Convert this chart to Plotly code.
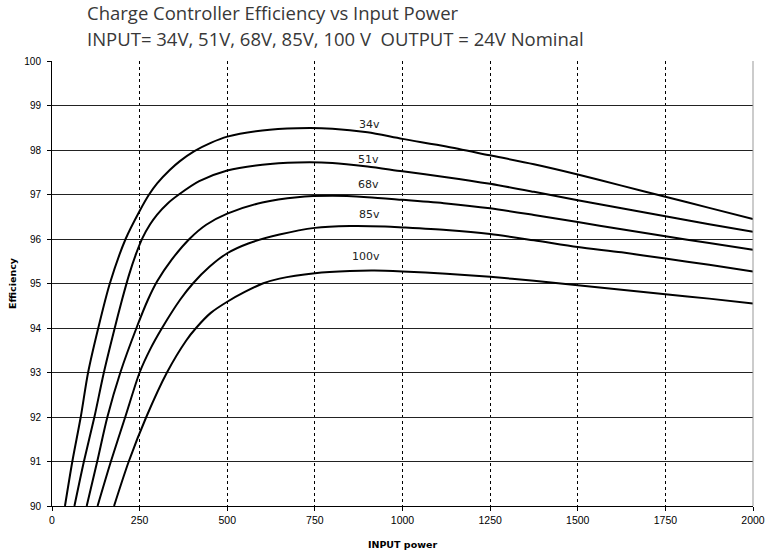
import plotly.graph_objects as go

# ---- data ----
x_34 = [37, 58, 82, 103, 132, 165, 210, 250, 277, 300, 336, 365, 405, 453, 500, 600, 700, 800, 900, 1000, 1125, 1250, 1375, 1500, 1625, 1750, 1875, 2000]
y_34 = [90, 91, 92, 93, 94, 95, 96, 96.63, 97, 97.25, 97.55, 97.75, 97.97, 98.16, 98.3, 98.44, 98.49, 98.48, 98.4, 98.25, 98.08, 97.88, 97.68, 97.45, 97.2, 96.95, 96.7, 96.45]

x_51 = [64, 91, 121, 148, 179, 200, 220, 240, 258, 280, 300, 330, 362, 420, 500, 600, 700, 800, 900, 1000, 1125, 1250, 1375, 1500, 1625, 1750, 1875, 2000]
y_51 = [90, 91, 92, 93, 94, 94.64, 95.2, 95.67, 96.02, 96.33, 96.55, 96.8, 97.0, 97.3, 97.54, 97.67, 97.72, 97.71, 97.63, 97.52, 97.39, 97.24, 97.06, 96.87, 96.69, 96.51, 96.33, 96.16]

x_68 = [99, 129, 158, 195, 241, 274, 300, 340, 392, 440, 500, 600, 700, 800, 900, 1000, 1125, 1250, 1375, 1500, 1625, 1750, 1875, 2000]
y_68 = [90, 91, 92, 93, 94, 94.64, 95.05, 95.52, 96, 96.32, 96.57, 96.82, 96.94, 96.97, 96.94, 96.88, 96.8, 96.69, 96.54, 96.38, 96.22, 96.06, 95.91, 95.76]

x_85 = [130, 168, 209, 250, 280, 314, 366, 402, 450, 500, 560, 649, 750, 850, 950, 1000, 1125, 1250, 1375, 1500, 1625, 1750, 1875, 2000]
y_85 = [90, 91, 92, 93, 93.52, 94, 94.64, 95, 95.38, 95.68, 95.9, 96.1, 96.25, 96.29, 96.28, 96.26, 96.2, 96.11, 95.97, 95.82, 95.7, 95.56, 95.42, 95.27]

x_100 = [177, 219, 269, 328, 383, 411, 453, 500, 550, 601, 649, 750, 850, 920, 1000, 1125, 1250, 1375, 1500, 1625, 1750, 1875, 2000]
y_100 = [90, 91, 92, 93, 93.72, 94, 94.34, 94.59, 94.81, 95, 95.11, 95.23, 95.28, 95.29, 95.27, 95.22, 95.15, 95.06, 94.96, 94.86, 94.76, 94.66, 94.55]

series_x = [x_34, x_51, x_68, x_85, x_100]
series_y = [y_34, y_51, y_68, y_85, y_100]
series_names = ["34v", "51v", "68v", "85v", "100v"]

label_x = [905, 902, 902, 907, 897]
label_y = [98.57, 97.79, 97.22, 96.55, 95.61]

x_ticks = [0, 250, 500, 750, 1000, 1250, 1500, 1750, 2000]
y_ticks = [90, 91, 92, 93, 94, 95, 96, 97, 98, 99, 100]

title_line1 = "Charge Controller Efficiency vs Input Power"
title_line2 = "INPUT= 34V, 51V, 68V, 85V, 100 V  OUTPUT = 24V Nominal"

W, H = 765, 556
ML, MR, MT, MB = 52, 12, 61, 50
PH = H - MT - MB
PW = W - ML - MR

fig = go.Figure()
for xs, ys, name in zip(series_x, series_y, series_names):
    fig.add_trace(go.Scatter(x=xs, y=ys, mode="lines", name=name,
                             line=dict(color="black", width=2, shape="spline", smoothing=0.8),
                             showlegend=False, hoverinfo="skip"))

for name, lx, ly in zip(series_names, label_x, label_y):
    fig.add_annotation(x=lx, y=ly, text=name, showarrow=False,
                       font=dict(family="DejaVu Sans", size=11, color="#222"))

fig.update_layout(
    width=W, height=H,
    margin=dict(l=ML, r=MR, t=MT, b=MB),
    paper_bgcolor="white", plot_bgcolor="white",
    xaxis=dict(range=[0, 2000], tickvals=x_ticks, ticktext=[str(v) for v in x_ticks],
               showgrid=True, gridcolor="black", gridwidth=1, griddash="3px,3px",
               showline=True, linecolor="black", linewidth=1,
               ticks="outside", ticklen=4, tickcolor="black", automargin=False,
               tickfont=dict(family="Liberation Sans", size=10.5, color="black"),
               zeroline=False,
               title=dict(text="<b>INPUT power</b>", standoff=16,
                          font=dict(family="DejaVu Sans", size=9.5, color="black"))),
    yaxis=dict(range=[90, 100], tickvals=y_ticks,
               showgrid=True, gridcolor="#222", gridwidth=1,
               showline=True, linecolor="black", linewidth=1,
               ticks="outside", ticklen=4, tickcolor="black", automargin=False,
               ticklabelstandoff=4,
               tickfont=dict(family="Liberation Sans", size=10, color="black"),
               zeroline=False,
               title=dict(text="<b>Efficiency</b>", standoff=5,
                          font=dict(family="DejaVu Sans", size=9.5, color="black"))),
    shapes=[dict(type="line", xref="paper", yref="paper", x0=1, x1=1, y0=0, y1=1,
                 line=dict(color="#999", width=1))],
)

fig.add_annotation(xref="paper", yref="paper", x=(85 - ML) / PW, y=(H - 12 - MB) / PH,
                   text=title_line1, showarrow=False, xanchor="left", yanchor="middle",
                   font=dict(family="Open Sans", size=18.5, color="#383838"))
fig.add_annotation(xref="paper", yref="paper", x=(85 - ML) / PW, y=(H - 39 - MB) / PH,
                   text=title_line2, showarrow=False, xanchor="left", yanchor="middle",
                   font=dict(family="Open Sans", size=18.5, color="#383838"))

fig.write_html("out.html", config={"displayModeBar": False},
               post_script="document.body.style.margin='0';document.body.style.overflow='hidden';")
